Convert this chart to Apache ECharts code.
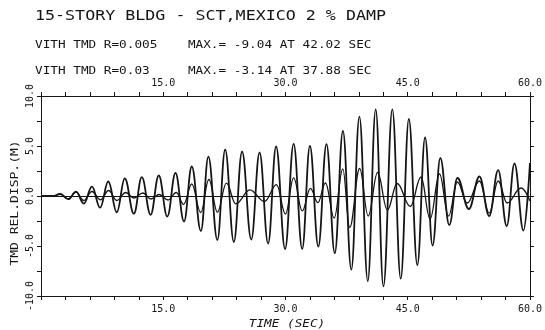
<!DOCTYPE html>
<html>
<head>
<meta charset="utf-8">
<script src="https://cdn.jsdelivr.net/npm/echarts@6/dist/echarts.min.js"></script>
<style>
  html, body { margin: 0; background: #fff; }
  #chart { width: 545px; height: 330px; }
</style>
</head>
<body>
<div id="chart"></div>
<script>
// header text
var titleText = "15-STORY BLDG - SCT,MEXICO 2 % DAMP";
var caseLines = [
  "VITH TMD R=0.005    MAX.= -9.04 AT 42.02 SEC",
  "VITH TMD R=0.03     MAX.= -3.14 AT 37.88 SEC"
];
var xName = "TIME (SEC)";
var yName = "TMD REL.DISP.(M)";
var xLabelValues = [15, 30, 45, 60];
var yLabelValues = [-10, -5, 0, 5, 10];

// R=0.005 : peaks / troughs (sec, m)
var timeR005 = [0, 1.5, 2.35, 3.35, 4.3, 5.25, 6.25, 7.25, 8.26, 9.3, 10.28, 11.4, 12.37, 13.45,
  14.45, 15.5, 16.5, 17.55, 18.5, 19.62, 20.54, 21.64, 22.6, 23.66, 24.67, 25.8, 26.82, 27.87,
  28.85, 29.95, 31.0, 32.05, 33.0, 34.03, 35.03, 36.05, 37.05, 38.08, 39.07, 40.1, 41.07, 42.02,
  43.11, 44.14, 45.14, 46.18, 47.13, 48.05, 49.0, 50.1, 51.1, 52.5, 53.8, 55.0, 56.1, 57.15,
  58.1, 59.2, 60];
var dispR005 = [0, 0, 0.2, -0.32, 0.43, -0.76, 0.93, -1.17, 1.45, -1.63, 1.75, -1.77, 1.88, -1.88,
  2.05, -2.05, 2.3, -2.55, 2.95, -3.5, 3.93, -4.4, 4.65, -4.6, 4.45, -4.35, 4.35, -4.75,
  4.95, -5.3, 5.22, -5.29, 5.0, -5.06, 5.19, -5.72, 6.5, -7.37, 7.94, -8.5, 8.66, -9.04,
  8.66, -8.27, 7.7, -6.9, 5.85, -4.95, 3.8, -2.9, 1.8, -1.3, 1.95, -2.0, 2.58, -3.0,
  3.25, -3.45, 3.3];

// R=0.03
var timeR03 = [0, 1.5, 2.35, 3.35, 4.3, 5.25, 6.25, 7.3, 8.3, 9.3, 10.4, 11.4, 12.5, 13.5,
  14.5, 15.6, 16.6, 17.5, 18.5, 19.6, 20.6, 21.65, 22.75, 23.9, 25.63, 27.43, 28.9, 30.0,
  31.0, 32.06, 33.06, 33.97, 34.9, 35.98, 37.03, 37.88, 39.1, 40.15, 41.3, 42.5, 43.7, 45.32,
  46.63, 47.74, 48.9, 50.0, 51.1, 52.3, 53.8, 55.0, 56.1, 57.2, 58.9, 60];
var dispR03 = [0, 0, 0.2, -0.28, 0.38, -0.45, 0.45, -0.38, 0.55, -0.45, 0.35, -0.2, 0.3, -0.3,
  0.15, -0.4, 0.35, -0.83, 1.2, -1.65, 1.65, -1.62, 1.28, -0.78, 0.62, -0.55, 1.14, -1.8,
  1.82, -1.48, 0.76, -0.66, 1.3, -2.2, 2.72, -3.14, 2.75, -2.0, 2.35, -1.4, 1.25, -1.05,
  1.9, -2.3, 2.2, -2.0, 1.4, -0.7, 1.5, -1.7, 1.5, -0.7, 0.8, -0.5];

function pairs(t, v) {
  var out = [];
  for (var i = 0; i < t.length; i++) out.push([t[i], v[i]]);
  return out;
}

var font = '"DejaVu Sans Mono"';
var ink = '#151515';

function xLabel(v) {
  return xLabelValues.indexOf(v) >= 0 ? v.toFixed(1) : '';
}
function yLabel(v) {
  return yLabelValues.indexOf(v) >= 0 ? v.toFixed(1) : '';
}

var xAxisBase = {
  type: 'value', min: 0, max: 60, interval: 3,
  axisLine: { show: true, onZero: false, lineStyle: { color: ink, width: 1 } },
  axisTick: { show: true, inside: false, length: 4, lineStyle: { color: ink } },
  splitLine: { show: false },
  axisLabel: { show: true, formatter: xLabel, color: ink, fontFamily: font, fontSize: 10, margin: 8 }
};
var yAxisBase = {
  type: 'value', min: -10, max: 10, interval: 2.5,
  axisLine: { show: true, onZero: false, lineStyle: { color: ink, width: 1 } },
  axisTick: { show: true, inside: false, length: 4, lineStyle: { color: ink } },
  splitLine: { show: false }
};

var chart = echarts.init(document.getElementById('chart'));
var option = {
  animation: false,
  backgroundColor: '#fff',
  grid: { left: 41, right: 10, top: 96, bottom: 34 },
  xAxis: [
    Object.assign({}, xAxisBase, { position: 'bottom' }),
    Object.assign({}, xAxisBase, { position: 'top' })
  ],
  yAxis: [
    Object.assign({}, yAxisBase, {
      position: 'left',
      axisLabel: { formatter: yLabel, rotate: 90, color: ink, fontFamily: font, fontSize: 10, margin: 6 }
    }),
    Object.assign({}, yAxisBase, { position: 'right', axisLabel: { show: false } })
  ],
  graphic: [
    { type: 'text', x: 35, y: 9, scaleX: 1.19,
      style: { text: titleText, font: '14px ' + font, fill: ink, textVerticalAlign: 'top' } },
    { type: 'text', x: 35, y: 40, scaleX: 1.27,
      style: { text: caseLines[0], font: '10px ' + font, fill: ink, textVerticalAlign: 'top' } },
    { type: 'text', x: 35, y: 66, scaleX: 1.27,
      style: { text: caseLines[1], font: '10px ' + font, fill: ink, textVerticalAlign: 'top' } },
    { type: 'text', x: 287, y: 324, scaleX: 1.27,
      style: { text: xName, font: 'italic 10px ' + font, fill: ink, textAlign: 'center', textVerticalAlign: 'middle' } },
    { type: 'text', x: 15, y: 203, scaleX: 1.3, rotation: Math.PI / 2,
      style: { text: yName, font: '10px ' + font, fill: ink, textAlign: 'center', textVerticalAlign: 'middle' } }
  ],
  series: [
    {
      name: 'R=0.005', type: 'line', data: pairs(timeR005, dispR005),
      smooth: 0.4, smoothMonotone: 'x', showSymbol: false, symbol: 'none',
      lineStyle: { color: ink, width: 1.8 },
      markLine: {
        silent: true, symbol: 'none', label: { show: false },
        lineStyle: { color: ink, width: 1, type: 'solid' },
        data: [{ yAxis: 0 }]
      }
    },
    {
      name: 'R=0.03', type: 'line', data: pairs(timeR03, dispR03),
      smooth: 0.4, smoothMonotone: 'x', showSymbol: false, symbol: 'none',
      lineStyle: { color: ink, width: 1.3 }
    }
  ]
};
chart.setOption(option);
</script>
</body>
</html>
